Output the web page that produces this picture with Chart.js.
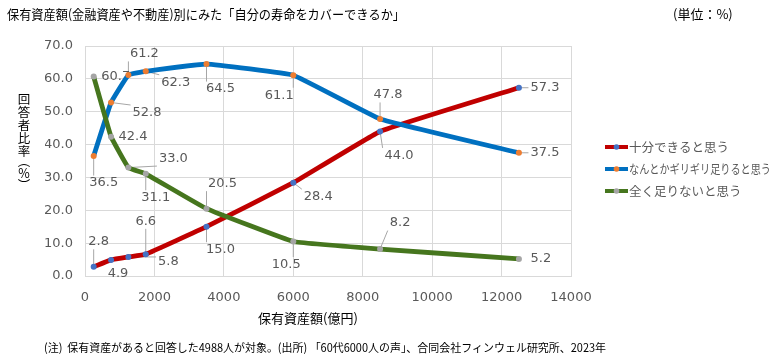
<!DOCTYPE html>
<html>
<head>
<meta charset="utf-8">
<script src="https://cdn.jsdelivr.net/npm/chart.js@4"></script>
<style>
  html, body { margin: 0; padding: 0; background: #fff; }
  #wrap { width: 780px; height: 361px; }
</style>
</head>
<body>
<div id="wrap"><canvas id="chart" width="780" height="361"></canvas></div>
<script>
// 保有資産額(億円)
const assets = [250, 750, 1250, 1750, 3500, 6000, 8500, 12500];
// 回答者比率(%)
const enough = [2.8, 4.9, 5.8, 6.6, 15.0, 28.4, 44.0, 57.3];
const barely = [36.5, 52.8, 61.2, 62.3, 64.5, 61.1, 47.8, 37.5];
const notEnough = [60.7, 42.4, 33.0, 31.1, 20.5, 10.5, 8.2, 5.2];
const seriesNames = ['十分できると思う', 'なんとかギリギリ足りると思う', '全く足りないと思う'];
const xTicks = [0, 14000, 2000];
const yTicks = [0, 70, 10];

// label offsets (px) from each point, like Excel's moved data labels
const labelOffsets = [
  [[5, -25], [7, 14], [40, 5], [0, -33], [14, 23], [25, 14], [19, 24], [26, 0]],
  [[10, 27], [36, 10], [16, -21], [30, 11], [14, 25], [-14, 20], [8, -24], [26, 0]],
  [[22, 0], [22, 0], [45, -9], [10, 24], [16, -25], [-7, 23], [20, -26], [22, 0]]
];

const lineColors = ['#c00000', '#0070c0', '#46761e'];
const markerColors = ['#4472c4', '#ed7d31', '#a5a5a5'];
const grey = '#595959';
const jp = '"Noto Sans CJK JP", "Noto Sans", sans-serif';

function pts(ys) {
  return assets.map((x, i) => ({ x: x, y: ys[i] }));
}

const labelPlugin = {
  id: 'labels',
  beforeDatasetsDraw(chart) {
    const ctx = chart.ctx;
    ctx.save();
    ctx.font = '13px "DejaVu Sans", Verdana, sans-serif';
    ctx.textAlign = 'center';
    ctx.textBaseline = 'middle';
    chart.data.datasets.forEach((ds, di) => {
      const meta = chart.getDatasetMeta(di);
      meta.data.forEach((p, i) => {
        const off = labelOffsets[di][i];
        const lx = p.x + off[0], ly = p.y + off[1];
        const txt = ds.data[i].y.toFixed(1);
        const w = ctx.measureText(txt).width;
        const h = 13;
        if (Math.hypot(off[0], off[1]) > 24) {
          // leader line to nearest edge of label box
          const bx = Math.max(lx - w / 2 - 2, Math.min(p.x, lx + w / 2 + 2));
          const by = Math.max(ly - h / 2 - 1, Math.min(p.y, ly + h / 2 + 1));
          ctx.strokeStyle = '#a6a6a6';
          ctx.lineWidth = 1;
          ctx.beginPath();
          ctx.moveTo(p.x, p.y);
          ctx.lineTo(bx, by);
          ctx.stroke();
        }
        ctx.fillStyle = grey;
        ctx.fillText(txt, lx, ly);
      });
    });
    ctx.restore();
  }
};

const textPlugin = {
  id: 'texts',
  afterDraw(chart) {
    const ctx = chart.ctx;
    ctx.save();
    ctx.fillStyle = '#000';
    ctx.textBaseline = 'middle';
    ctx.font = '13px ' + jp;
    ctx.textAlign = 'left';
    ctx.fillText('保有資産額(金融資産や不動産)別にみた「自分の寿命をカバーできるか」', 7, 14, 398);
    ctx.fillText('(単位：%)', 673, 14, 64);

    // x axis title
    ctx.textAlign = 'center';
    ctx.fillText('保有資産額(億円)', 308, 318);

    // y axis title, stacked vertically
    const yChars = ['回', '答', '者', '比', '率', '︵', '%', '︶'];
    const yPos = [99, 112, 125, 138, 151, 161, 173, 185];
    ctx.font = '12.5px ' + jp;
    yChars.forEach((c, i) => ctx.fillText(c, 24, yPos[i]));

    // footnote
    ctx.textAlign = 'left';
    ctx.font = '11.5px ' + jp;
    ctx.fillText('(注)  保有資産があると回答した4988人が対象。(出所) 「60代6000人の声」、合同会社フィンウェル研究所、2023年', 44, 348, 562);

    // legend
    ctx.font = '12.5px ' + jp;
    seriesNames.forEach((name, i) => {
      const y = 147 + i * 22;
      ctx.strokeStyle = lineColors[i];
      ctx.lineWidth = 4;
      ctx.beginPath();
      ctx.moveTo(605, y);
      ctx.lineTo(628, y);
      ctx.stroke();
      ctx.fillStyle = markerColors[i];
      ctx.beginPath();
      ctx.arc(616.5, y, 2.8, 0, Math.PI * 2);
      ctx.fill();
      ctx.fillStyle = grey;
      ctx.fillText(name, 629, y, 142);
    });
    ctx.restore();
  }
};

const series = [enough, barely, notEnough];

new Chart(document.getElementById('chart'), {
  type: 'line',
  data: {
    datasets: series.map((s, i) => ({
      label: seriesNames[i],
      data: pts(s),
      borderColor: lineColors[i],
      borderWidth: 4.8,
      pointBackgroundColor: markerColors[i],
      pointBorderWidth: 0,
      pointRadius: 3,
      tension: 0.08,
      order: 3 - i
    }))
  },
  options: {
    responsive: false,
    animation: false,
    devicePixelRatio: 1,
    layout: { padding: { left: 45, right: 209, top: 46, bottom: 53 } },
    plugins: {
      legend: { display: false },
      tooltip: { enabled: false },
      title: { display: false }
    },
    scales: {
      x: {
        type: 'linear',
        min: xTicks[0],
        max: xTicks[1],
        afterFit: s => { s.height = 32; },
        ticks: {
          stepSize: xTicks[2],
          color: grey,
          padding: 14,
          maxRotation: 0,
          callback: v => String(v),
          font: { family: '"DejaVu Sans", Verdana, sans-serif', size: 13 }
        },
        grid: { color: '#d9d9d9', drawTicks: false },
        border: { color: '#d9d9d9' }
      },
      y: {
        min: yTicks[0],
        max: yTicks[1],
        afterFit: s => { s.width = 40; },
        ticks: {
          stepSize: yTicks[2],
          color: grey,
          padding: 12,
          callback: v => v.toFixed(1),
          font: { family: '"DejaVu Sans", Verdana, sans-serif', size: 13 }
        },
        grid: { color: '#d9d9d9', drawTicks: false },
        border: { color: '#d9d9d9' }
      }
    }
  },
  plugins: [labelPlugin, textPlugin]
});
</script>
</body>
</html>
